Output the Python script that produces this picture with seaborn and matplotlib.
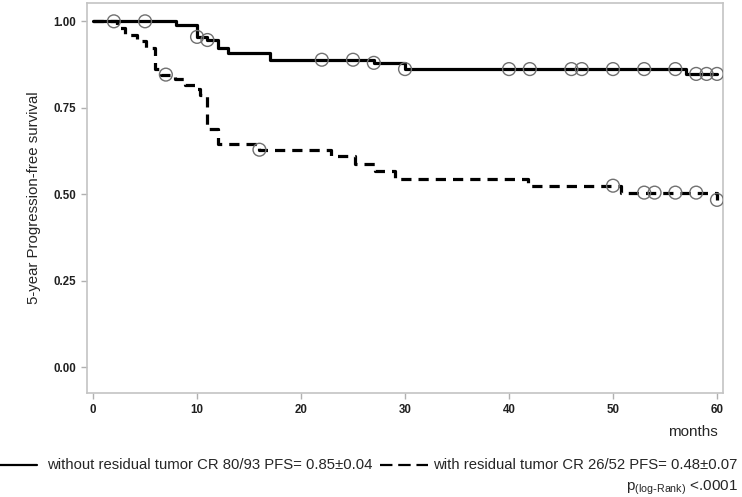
import numpy as np
import pandas as pd
import matplotlib
matplotlib.use("Agg")
import matplotlib.pyplot as plt
from matplotlib.lines import Line2D
import seaborn as sns

# Kaplan-Meier step estimates (months, survival)
t_without = [0, 8, 10, 11, 12, 13, 17, 27, 30, 57, 60]
s_without = [1.0, 0.988, 0.955, 0.946, 0.924, 0.908, 0.889, 0.880, 0.862, 0.848, 0.848]
cens_without = [2, 5, 10, 11, 22, 25, 27, 30, 40, 42, 46, 47, 50, 53, 56, 58, 59, 60]

t_with = [0, 2.3, 3.1, 4.2, 5.1, 6.0, 6.5, 7.9, 8.8, 9.8, 10.3, 11.0, 12.0,
          16.0, 22.9, 25.2, 27.1, 29.0, 41.8, 50.8, 60.0]
s_with = [1.0, 0.981, 0.960, 0.942, 0.924, 0.862, 0.846, 0.832, 0.817, 0.805,
          0.788, 0.690, 0.646, 0.629, 0.611, 0.589, 0.567, 0.545, 0.525, 0.505, 0.484]
cens_with = [7, 16, 50, 53, 54, 56, 58, 60]

x_ticks = [0, 10, 20, 30, 40, 50, 60]
y_ticks = [0.0, 0.25, 0.5, 0.75, 1.0]

label_without = "without residual tumor CR 80/93 PFS= 0.85\u00b10.04"
label_with = "with residual tumor CR 26/52 PFS= 0.48\u00b10.07"


def surv_at(times, surv, t):
    idx = np.searchsorted(times, t, side="right") - 1
    return np.asarray(surv)[idx]


sns.set_style("white")
plt.rcParams["font.family"] = ["Liberation Sans", "DejaVu Sans"]

W, H = 742, 497
fig = plt.figure(figsize=(W / 100, H / 100), dpi=100)
ax = fig.add_axes([0.1173, 0.2093, 0.8571, 0.7847])

dashed = (0, (3.2, 2.2))
sns.lineplot(x=t_without, y=s_without, ax=ax, color="black", lw=2.3,
             drawstyle="steps-post", estimator=None, sort=False)
sns.lineplot(x=t_with, y=s_with, ax=ax, color="black", lw=2.3,
             drawstyle="steps-post", estimator=None, sort=False, linestyle=dashed)

cw = pd.DataFrame({"t": cens_without, "s": surv_at(t_without, s_without, cens_without)})
cd = pd.DataFrame({"t": cens_with, "s": surv_at(t_with, s_with, cens_with)})
for df in (cw, cd):
    sns.scatterplot(data=df, x="t", y="s", ax=ax, s=85, marker="o",
                    facecolor="none", edgecolor="#707070", linewidth=1.0, zorder=5)

ax.set_xlim(-0.58, 60.58)
ax.set_ylim(-0.074, 1.053)
ax.set_xticks(x_ticks)
ax.set_yticks(y_ticks)
ax.set_yticklabels([f"{v:.2f}" for v in y_ticks])
ax.set_xlabel("")
ax.set_ylabel("5-year Progression-free survival", fontsize=10.8, labelpad=9)
for sp in ax.spines.values():
    sp.set_color("#c4c4c4")
    sp.set_linewidth(1.2)
ax.tick_params(axis="both", which="major", bottom=True, left=True,
               direction="out", length=4, width=1, color="#b0b0b0",
               labelsize=8.3, pad=4)
for lab in ax.get_xticklabels() + ax.get_yticklabels():
    lab.set_fontweight("bold")
    lab.set_color("#202020")

fig.text(718 / W, 1 - 432 / H, "months", ha="right", va="center", fontsize=11)

# legend row drawn by hand so each sample keeps its own length
ly = 1 - 465 / H
fig.add_artist(Line2D([0, 37 / W], [ly, ly], color="black", lw=1.6,
                      transform=fig.transFigure))
fig.text(47 / W, ly, label_without, ha="left", va="center", fontsize=10.75)
fig.add_artist(Line2D([380 / W, 428 / W], [ly, ly], color="black", lw=1.6,
                      linestyle=(0, (5.6, 2.6)), transform=fig.transFigure))
fig.text(433 / W, ly, label_with, ha="left", va="center", fontsize=10.75)

fig.text(738 / W, 1 - 488 / H, r"p$_{\mathregular{(log\text{-}Rank)}}$ <.0001",
         ha="right", va="center", fontsize=11)

fig.savefig("out.png", dpi=100)
